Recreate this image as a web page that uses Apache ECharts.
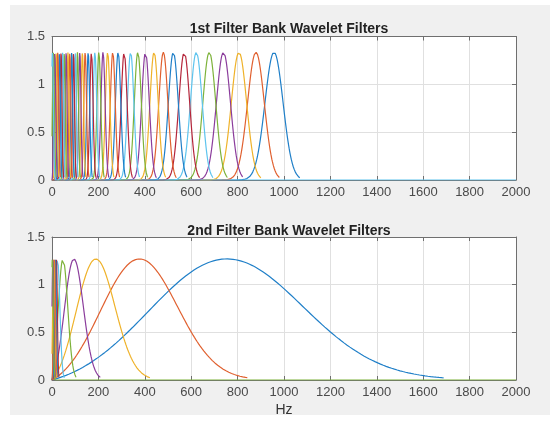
<!DOCTYPE html>
<html>
<head>
<meta charset="utf-8">
<script src="https://cdn.jsdelivr.net/npm/echarts@6/dist/echarts.min.js"></script>
<style>
  html, body { margin: 0; padding: 0; background: #ffffff; }
  #panel { position: absolute; left: 10px; top: 5px; width: 540px; height: 410px; background: #f0f0f0; }
  #chart { position: absolute; left: 0; top: 0; width: 550px; height: 421px; }
</style>
</head>
<body>
<div id="panel"></div>
<div id="chart"></div>
<script>
// Frequency axis (Hz) and amplitude axis ticks
const xTicks = [0, 200, 400, 600, 800, 1000, 1200, 1400, 1600, 1800, 2000];
const yTicks = [0, 0.5, 1, 1.5];

// 1st filter bank: centre frequencies (Hz) and Gaussian bandwidths (Hz), highest first
const bank1Centers = [957, 879, 806, 739, 678, 622, 570, 523, 480, 440,
                      403, 370, 339, 311, 285, 262, 240, 220, 202, 185,
                      170, 156, 143, 131, 120, 110, 101, 93, 85, 77,
                      69, 61, 53, 46, 39, 32, 25, 18, 12, 6, 2];
const bank1Widths  = [39.0, 36.0, 33.0, 30.3, 27.8, 25.5, 23.4, 21.4, 19.7, 18.0,
                      16.5, 15.2, 13.9, 12.8, 11.7, 10.7, 9.8, 9.0, 8.3, 7.6,
                      7.0, 6.4, 5.9, 5.4, 4.9, 4.5, 4.1, 4.1, 4.1, 4.1,
                      4.1, 4.1, 4.1, 4.1, 4.1, 4.1, 4.1, 4.1, 4.1, 4.1, 4.1];
const bank1Peak = 1.335;

// 2nd filter bank: centre frequencies (Hz) and bandwidths (Hz)
const bank2Centers = [750, 375, 188, 94, 47, 23.5, 19, 15, 11, 7, 4, 1.5];
const bank2Widths  = [330, 165, 83, 41, 20.7, 10.3, 4, 4, 4, 4, 4, 4];
const bank2Peak = 1.27;

const lineColors = ['#1f7fc8', '#e0602f', '#efb22a', '#8b3d9c', '#7db23a', '#5ec4ee', '#b5263b'];

const FONT = '"Liberation Sans", Arial, Helvetica, sans-serif';
const AXIS_COLOR = '#6f6f6f';
const GRID_COLOR = '#e0e0e0';

// Filter response in frequency: Gaussian bump; wide bumps get the Morlet DC correction
function response(w, xi, s) {
  const g = Math.exp(-(w - xi) * (w - xi) / (2 * s * s));
  if (xi < 2 * s) return g;
  const k = Math.exp(-xi * xi / (2 * s * s));
  return g - k * Math.exp(-w * w / (2 * s * s));
}

function filterSeries(centers, widths, peak, xIdx, yIdx) {
  const out = [];
  centers.forEach((xi, i) => {
    const s = widths[i];
    const step = Math.min(2, s / 8);
    const end = xi + 2.85 * s;
    const pts = [];
    let maxV = 0;
    for (let w = 0; w <= end; w += step) {
      const v = response(w, xi, s);
      pts.push([w, v]);
      if (v > maxV) maxV = v;
    }
    const data = pts.map(p => [p[0], Math.max(0, p[1]) / maxV * peak]);
    const isLast = i === centers.length - 1;
    if (isLast) {
      data.push([end + step, 0]);
      data.push([xTicks[xTicks.length - 1], 0]);
    }
    out.push({
      type: 'line',
      xAxisIndex: xIdx,
      yAxisIndex: yIdx,
      data: data,
      showSymbol: false,
      symbol: 'none',
      silent: true,
      animation: false,
      clip: true,
      lineStyle: { width: 1.2, color: lineColors[i % lineColors.length] }
    });
  });
  return out;
}

const plainNumber = v => String(v);

function bottomX(gridIndex) {
  return {
    type: 'value', gridIndex, position: 'bottom',
    min: xTicks[0], max: xTicks[xTicks.length - 1], interval: 200,
    axisLine: { show: true, onZero: false, lineStyle: { color: AXIS_COLOR, width: 1 } },
    axisTick: { show: true, inside: true, length: 4, lineStyle: { color: AXIS_COLOR } },
    axisLabel: { show: true, margin: 6, color: '#4a4a4a', fontSize: 13, fontFamily: FONT, formatter: plainNumber },
    splitLine: { show: true, lineStyle: { color: GRID_COLOR, width: 1 } }
  };
}
function topX(gridIndex) {
  return {
    type: 'value', gridIndex, position: 'top',
    min: xTicks[0], max: xTicks[xTicks.length - 1], interval: 200,
    axisLine: { show: true, onZero: false, lineStyle: { color: AXIS_COLOR, width: 1 } },
    axisTick: { show: true, inside: true, length: 4, lineStyle: { color: AXIS_COLOR } },
    axisLabel: { show: false },
    splitLine: { show: false }
  };
}
function leftY(gridIndex) {
  return {
    type: 'value', gridIndex, position: 'left',
    min: yTicks[0], max: yTicks[yTicks.length - 1], interval: 0.5,
    axisLine: { show: true, onZero: false, lineStyle: { color: AXIS_COLOR, width: 1 } },
    axisTick: { show: true, inside: true, length: 4, lineStyle: { color: AXIS_COLOR } },
    axisLabel: { show: true, margin: 7, color: '#4a4a4a', fontSize: 13, fontFamily: FONT, formatter: plainNumber },
    splitLine: { show: true, lineStyle: { color: GRID_COLOR, width: 1 } }
  };
}
function rightY(gridIndex) {
  return {
    type: 'value', gridIndex, position: 'right',
    min: yTicks[0], max: yTicks[yTicks.length - 1], interval: 0.5,
    axisLine: { show: true, onZero: false, lineStyle: { color: AXIS_COLOR, width: 1 } },
    axisTick: { show: true, inside: true, length: 4, lineStyle: { color: AXIS_COLOR } },
    axisLabel: { show: false },
    splitLine: { show: false }
  };
}

const chart = echarts.init(document.getElementById('chart'), null, { renderer: 'canvas' });

const series = []
  .concat(filterSeries(bank1Centers, bank1Widths, bank1Peak, 0, 0))
  .concat(filterSeries(bank2Centers, bank2Widths, bank2Peak, 2, 2));

chart.setOption({
  backgroundColor: 'transparent',
  animation: false,
  title: [
    { text: '1st Filter Bank Wavelet Filters', left: 284, top: 17, textAlign: 'center',
      textStyle: { fontFamily: FONT, fontWeight: 'bold', fontSize: 14, color: '#222222' } },
    { text: '2nd Filter Bank Wavelet Filters', left: 284, top: 219, textAlign: 'center',
      textStyle: { fontFamily: FONT, fontWeight: 'bold', fontSize: 14, color: '#222222' } }
  ],
  grid: [
    { left: 52, top: 36.5, width: 464, height: 143.5, show: true, backgroundColor: '#ffffff', borderWidth: 0 },
    { left: 52, top: 237, width: 464, height: 143, show: true, backgroundColor: '#ffffff', borderWidth: 0 }
  ],
  xAxis: [bottomX(0), topX(0), bottomX(1), topX(1)],
  yAxis: [leftY(0), rightY(0), leftY(1), rightY(1)],
  graphic: [
    { type: 'text', x: 284, y: 410, silent: true,
      style: { text: 'Hz', fontFamily: FONT, fontSize: 14, fill: '#333333', align: 'center', verticalAlign: 'middle' } }
  ],
  series: series
});
</script>
</body>
</html>
